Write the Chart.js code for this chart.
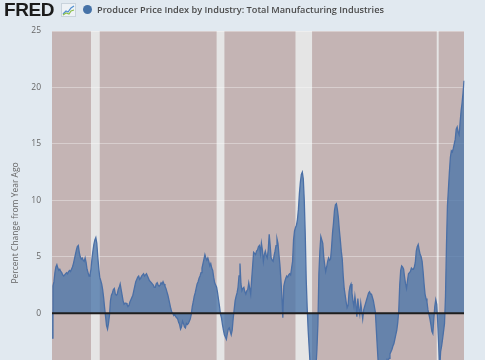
<!DOCTYPE html>
<html>
<head>
<meta charset="utf-8">
<script src="https://cdn.jsdelivr.net/npm/chart.js@4.4.1/dist/chart.umd.min.js"></script>
<style>
html, body { margin:0; padding:0; background:#e1e9f0; width:485px; height:360px; overflow:hidden; }
#wrap { position:relative; width:485px; height:360px; overflow:hidden; }
#box { position:absolute; left:0; top:0; width:485px; height:431px; }
#hdr { position:absolute; left:0; top:0; width:485px; height:24px; z-index:2; }
#logo { position:absolute; left:4px; top:-1px; font-family:"Liberation Sans", Arial, sans-serif; font-weight:bold; font-size:19px; color:#1b1b1b; letter-spacing:-0.4px; }
#icon { position:absolute; left:61px; top:3px; }
#dot { position:absolute; left:83px; top:5px; width:9px; height:9px; border-radius:50%; background:#4572a7; }
#ttl { position:absolute; left:97px; top:3px; font-family:"Open Sans", sans-serif; font-size:9.2px; font-weight:600; color:#4a4a4a; white-space:nowrap; }
</style>
</head>
<body>
<div id="wrap">
  <div id="box"><canvas id="c"></canvas></div>
  <div id="hdr">
    <div id="logo">FRED</div>
    <svg id="icon" width="15" height="14" viewBox="0 0 15 14">
      <rect x="0.5" y="0.5" width="14" height="13" fill="#eef2f6" stroke="#c9d3dc" stroke-width="1"/>
      <polyline points="2,11 5,8 7,9 10,5 13,3" fill="none" stroke="#4f8fcf" stroke-width="1.2"/>
      <polyline points="2,12 5,10 8,11 10,8 13,7" fill="none" stroke="#8cc04b" stroke-width="1.2"/>
    </svg>
    <div id="dot"></div>
    <div id="ttl">Producer Price Index by Industry: Total Manufacturing Industries</div>
  </div>
</div>
<script>
// Monthly percent change from year ago, starting March 1987
const startYear = 1987;
const startMonth = 3;
const pctChange = [
  /*1987*/ -2.2, 2.4, 2.8, 3.6, 4.1, 4.3, 4.0, 3.8, 3.9, 3.7,
  /*1988*/ 3.6, 3.4, 3.3, 3.4, 3.5, 3.6, 3.5, 3.7, 3.8, 3.7, 3.9, 4.1,
  /*1989*/ 4.4, 4.8, 5.2, 5.6, 5.9, 6.0, 5.4, 5.0, 4.8, 4.9, 4.7, 4.6,
  /*1990*/ 4.9, 4.5, 3.9, 3.6, 3.3, 3.4, 3.9, 4.8, 5.5, 6.1, 6.5, 6.7,
  /*1991*/ 6.2, 5.0, 4.0, 3.2, 2.9, 2.6, 2.1, 1.4, 0.5, -0.3, -1.1, -1.4,
  /*1992*/ -0.9, -0.2, 1.1, 1.6, 1.8, 2.1, 2.2, 1.7, 1.6, 1.7, 2.1, 2.3,
  /*1993*/ 2.6, 2.1, 1.6, 1.1, 0.8, 0.9, 0.9, 0.8, 0.6, 0.7, 1.0, 1.2,
  /*1994*/ 1.4, 1.6, 2.0, 2.4, 2.8, 3.0, 3.2, 3.3, 3.0, 3.1, 3.3, 3.4,
  /*1995*/ 3.5, 3.3, 3.4, 3.5, 3.3, 3.1, 2.9, 2.8, 2.7, 2.6, 2.5, 2.3,
  /*1996*/ 2.3, 2.6, 2.7, 2.5, 2.4, 2.5, 2.7, 2.6, 2.8, 2.6, 2.4, 2.2,
  /*1997*/ 1.9, 1.6, 1.2, 0.8, 0.4, 0.1, 0.0, -0.2, -0.1, -0.3, -0.4, -0.5,
  /*1998*/ -0.8, -1.0, -1.4, -1.2, -0.7, -0.9, -1.2, -1.3, -0.9, -1.0, -0.9, -0.7,
  /*1999*/ -0.5, -0.1, 0.6, 1.0, 1.5, 1.8, 2.2, 2.6, 2.8, 3.1, 3.3, 3.6,
  /*2000*/ 4.0, 4.4, 4.8, 5.2, 4.9, 4.7, 4.9, 4.6, 4.2, 4.4, 4.0, 3.8,
  /*2001*/ 3.2, 2.7, 2.5, 2.3, 1.8, 1.2, 0.6, -0.1, -0.4, -1.0, -1.5, -1.9,
  /*2002*/ -2.1, -2.3, -1.8, -1.4, -1.3, -1.6, -1.9, -1.5, -0.5, 0.3, 1.1, 1.5,
  /*2003*/ 1.8, 2.3, 3.3, 4.4, 2.6, 2.0, 2.2, 2.3, 1.9, 1.7, 2.0, 2.1,
  /*2004*/ 2.7, 2.2, 1.7, 3.0, 4.2, 5.4, 5.3, 5.2, 5.5, 5.6, 5.9, 6.0,
  /*2005*/ 5.3, 6.2, 5.6, 4.6, 5.2, 5.5, 5.1, 4.9, 5.6, 7.0, 6.0, 4.9,
  /*2006*/ 4.7, 4.6, 5.1, 5.5, 6.0, 6.6, 6.2, 5.2, 4.3, 3.0, 1.6, -0.4,
  /*2007*/ 2.4, 2.8, 3.1, 3.3, 3.2, 3.4, 3.5, 3.4, 4.0, 4.6, 6.5, 7.3,
  /*2008*/ 7.6, 7.8, 8.3, 9.2, 10.6, 11.6, 12.3, 12.5, 11.9, 10.0, 7.0, 3.0,
  /*2009*/ 0.5, -1.5, -3.0, -4.5, -6.0, -7.2, -8.0, -7.5, -6.5, -4.8, -3.2, -1.0,
  /*2010*/ 3.5, 5.5, 6.8, 6.5, 6.2, 5.0, 4.3, 3.7, 4.1, 4.6, 4.9, 4.7,
  /*2011*/ 4.8, 5.8, 7.1, 8.0, 9.1, 9.6, 9.7, 9.2, 8.5, 7.4, 6.5, 5.5,
  /*2012*/ 4.8, 3.3, 2.2, 1.6, 1.0, 0.5, 0.7, 1.9, 2.4, 2.6, 1.8, 1.1,
  /*2013*/ 0.6, 1.5, 0.8, -0.3, 1.3, 0.4, -0.1, 0.9, 0.2, -0.5, 0.3, 0.6,
  /*2014*/ 0.9, 1.2, 1.5, 1.8, 1.9, 1.7, 1.7, 1.4, 1.1, 0.6, 0.1, -1.5,
  /*2015*/ -3.0, -4.5, -5.5, -5.8, -5.6, -5.2, -5.5, -6.0, -5.0, -4.4, -4.1, -4.3,
  /*2016*/ -4.0, -3.6, -3.4, -3.2, -2.9, -2.7, -2.3, -1.9, -1.5, -0.8, 0.2, 2.5,
  /*2017*/ 3.8, 4.2, 4.1, 3.9, 3.2, 2.6, 2.2, 2.9, 3.5, 3.6, 3.7, 4.0,
  /*2018*/ 3.9, 3.9, 4.1, 4.5, 5.5, 5.9, 6.1, 5.6, 5.2, 5.0, 4.6, 3.7,
  /*2019*/ 2.6, 1.7, 1.3, 1.0, 0.3, -0.1, -0.5, -1.0, -1.6, -1.8, -0.5, 0.6,
  /*2020*/ 1.2, 0.8, -0.8, -2.8, -5.0, -3.4, -2.9, -2.3, -1.6, -0.9, 1.5, 6.0,
  /*2021*/ 9.5, 11.0, 12.5, 13.8, 14.4, 14.3, 14.6, 15.0, 15.4, 16.3, 16.5, 16.0,
  /*2022*/ 15.8, 16.9, 17.9, 18.6, 19.5, 20.6
];
const months = [];
for (let k = 0; k < pctChange.length; k++) {
  const m = startMonth - 1 + k;
  const yr = startYear + Math.floor(m / 12);
  months.push(yr + '-' + String((m % 12) + 1).padStart(2, '0'));
}
const recessions = [
  ['1990-07', '1991-04'],
  ['2001-04', '2001-12'],
  ['2008-01', '2009-06'],
  ['2020-02', '2020-04']
];
const yMin = -9, yMax = 25, yStep = 5;

const bgPlugin = {
  id: 'bgPlugin',
  beforeDraw(chart) {
    const { ctx, chartArea: a, scales: { x } } = chart;
    ctx.save();
    ctx.fillStyle = '#c4b4b4';
    ctx.fillRect(a.left, a.top, a.right - a.left, a.bottom - a.top);
    ctx.fillStyle = '#e5e5e5';
    recessions.forEach(([s, e]) => {
      const x0 = x.getPixelForValue(months.indexOf(s));
      const x1 = x.getPixelForValue(months.indexOf(e));
      ctx.fillRect(x0, a.top, x1 - x0, a.bottom - a.top);
    });
    ctx.restore();
  },
  afterDatasetsDraw(chart) {
    const { ctx, chartArea: a, scales: { y } } = chart;
    const y0 = y.getPixelForValue(0);
    ctx.save();
    ctx.strokeStyle = '#1e1e1e';
    ctx.lineWidth = 2;
    ctx.beginPath();
    ctx.moveTo(a.left, y0);
    ctx.lineTo(a.right, y0);
    ctx.stroke();
    ctx.restore();
  }
};

new Chart(document.getElementById('c'), {
  type: 'line',
  data: {
    labels: months,
    datasets: [{
      label: 'Producer Price Index by Industry: Total Manufacturing Industries',
      data: pctChange,
      borderColor: '#4a6fa6',
      borderWidth: 1.3,
      backgroundColor: 'rgba(69,114,167,0.74)',
      fill: 'origin',
      pointRadius: 0,
      tension: 0
    }]
  },
  options: {
    responsive: true,
    maintainAspectRatio: false,
    animation: false,
    layout: { padding: { left: 0, right: 21, top: 31, bottom: 6 } },
    plugins: { legend: { display: false }, tooltip: { enabled: false } },
    scales: {
      x: { type: 'category', display: false, offset: false },
      y: {
        min: yMin, max: yMax,
        ticks: { stepSize: yStep, color: '#666', padding: 11, font: { family: 'Open Sans', size: 8.5 } },
        grid: { color: 'rgba(255,255,255,0.35)', drawTicks: false, lineWidth: 1 },
        border: { display: false },
        title: { display: true, text: 'Percent Change from Year Ago', color: '#666', font: { family: 'Open Sans', size: 8.5 }, padding: { top: 10, bottom: 0 } },
        afterFit(scale) { scale.width = 52; }
      }
    }
  },
  plugins: [bgPlugin]
});
</script>
</body>
</html>
